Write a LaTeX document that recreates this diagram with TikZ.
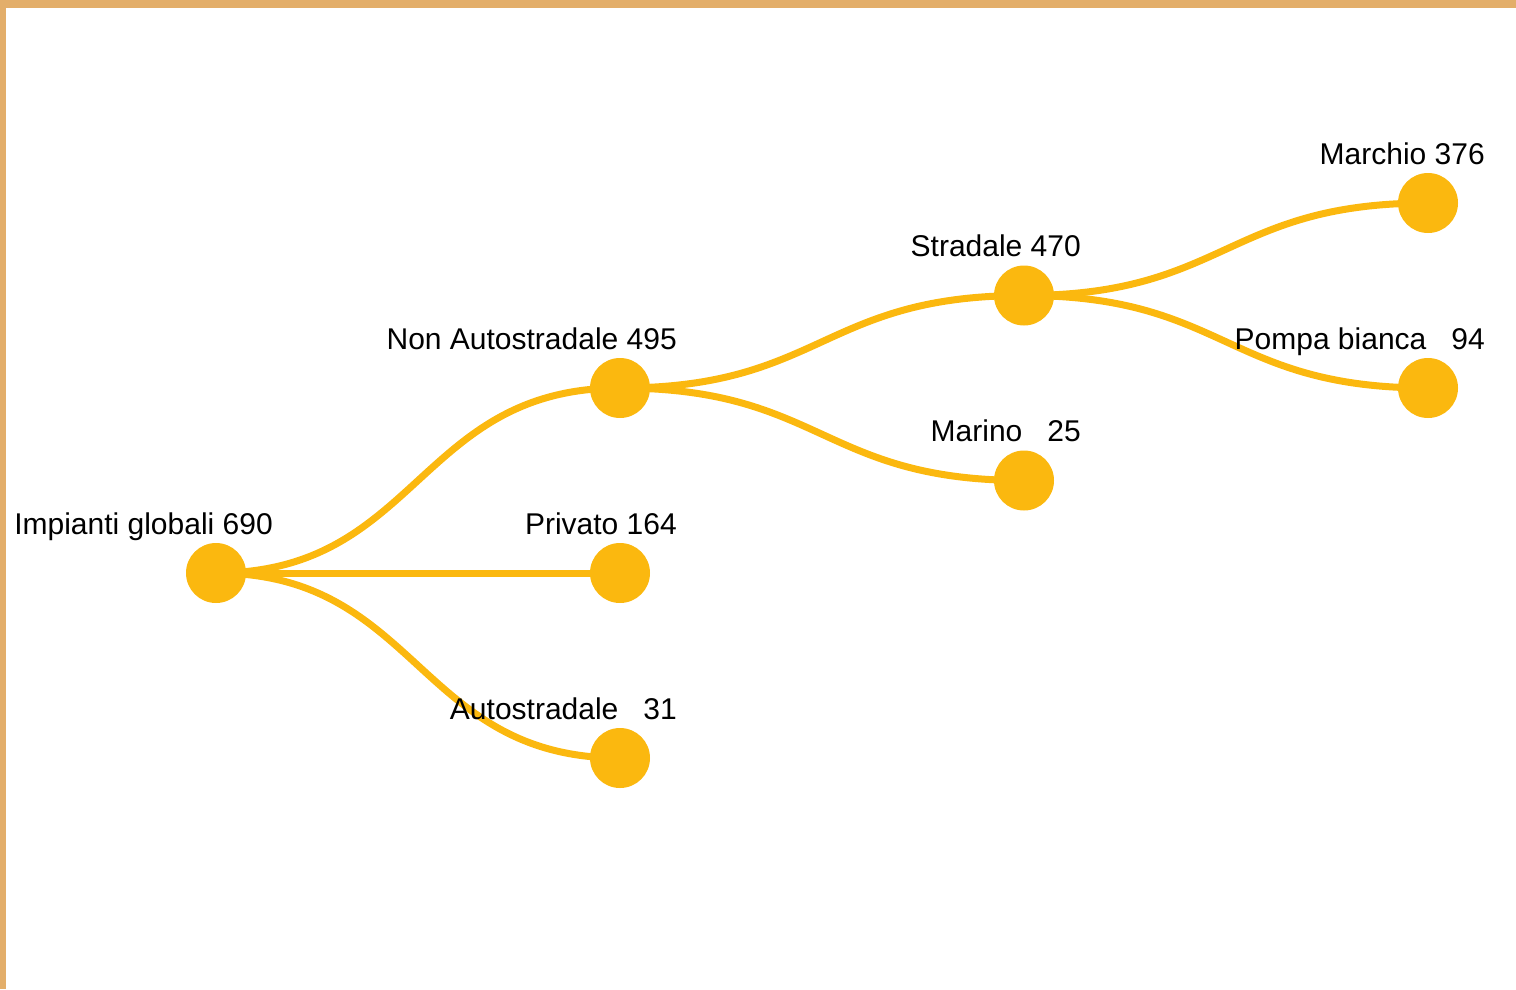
\documentclass[tikz,border=0pt]{standalone}
\usepackage{fontspec}
\setmainfont{Liberation Sans}
\usepackage{tikz}
\usetikzlibrary{positioning}
\definecolor{nodeyellow}{HTML}{FBB80F}
\definecolor{frametan}{HTML}{E3AE6A}

\begin{document}
\begin{tikzpicture}[x=1pt,y=-1pt,grow'=right,level distance=404pt,
    sibling distance=185pt,
    dot/.style={circle, fill=nodeyellow, inner sep=0pt, minimum size=60pt},
    tag/.style={anchor=base east, inner sep=0pt, font=\fontsize{30}{35}\selectfont},
    edge from parent/.style={draw=nodeyellow, line width=7pt},
    edge from parent path={(\tikzparentnode.center) .. controls +(202,0) and +(-202,0) .. (\tikzchildnode.center)}]

    \useasboundingbox (0,0) rectangle (1516,989);
    \fill[frametan] (0,0) rectangle (1516,8);
    \fill[frametan] (0,0) rectangle (6,989);

    \node[dot] (impianti) at (216,573) {}
      child {node[dot] (nonauto) {}
        child {node[dot] (stradale) {}
          child {node[dot] (marchio) {}}
          child {node[dot] (pompa) {}}}
        child {node[dot] (marino) {}}}
      child {node[dot] (privato) {}}
      child {node[dot] (autostr) {}};

    % labels above the dots, on top of the links
    \foreach \n/\t in {impianti/Impianti globali 690, nonauto/Non Autostradale 495,
        privato/Privato 164, autostr/Autostradale\ \ \ 31, stradale/Stradale 470,
        marino/Marino\ \ \ 25, marchio/Marchio 376, pompa/Pompa bianca\ \ \ 94}
      \node[tag] (\n-tag) at ([xshift=57pt, yshift=39pt]\n.center) {\t};
  \end{tikzpicture}
\end{document}
